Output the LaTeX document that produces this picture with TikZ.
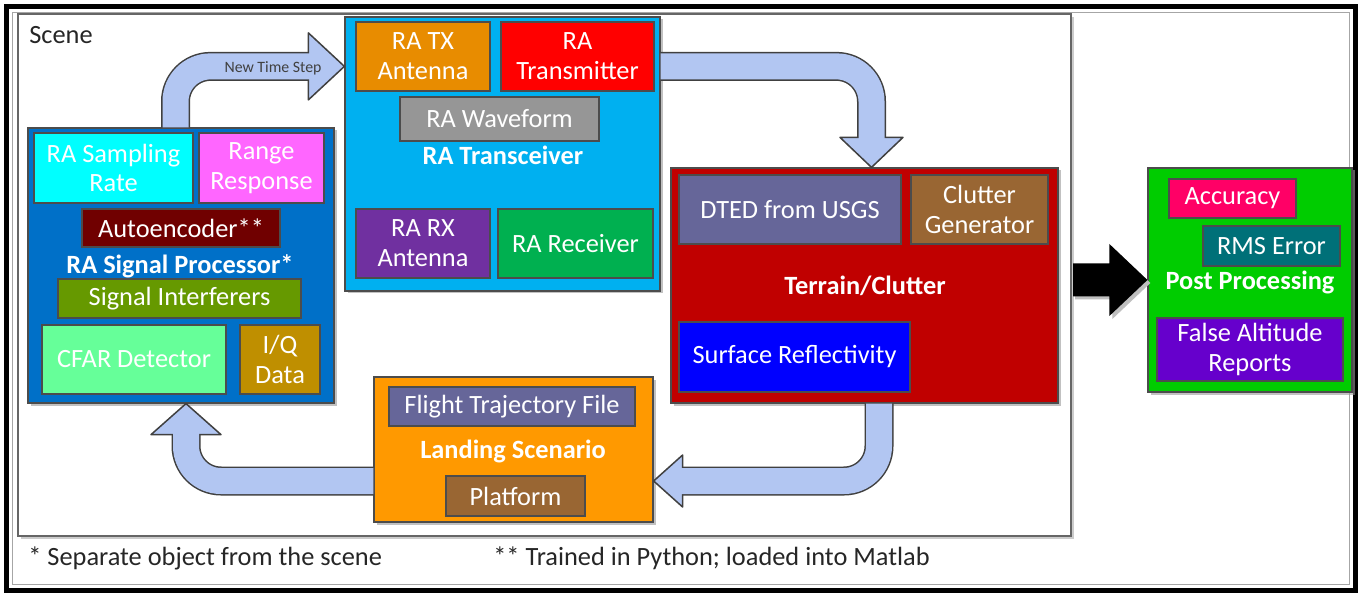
\documentclass[tikz,border=0pt]{standalone}
\usepackage{fontspec}
\setmainfont{Carlito}
\usetikzlibrary{shadows, calc}

\definecolor{spblue}{RGB}{0,112,200}
\definecolor{trxblue}{RGB}{0,176,240}
\definecolor{samplecyan}{RGB}{0,255,255}
\definecolor{rangepink}{RGB}{255,102,255}
\definecolor{autored}{RGB}{112,0,0}
\definecolor{interfgreen}{RGB}{102,153,0}
\definecolor{cfargreen}{RGB}{102,255,153}
\definecolor{iqgold}{RGB}{191,143,0}
\definecolor{txorange}{RGB}{232,140,0}
\definecolor{txred}{RGB}{255,0,0}
\definecolor{wavegray}{RGB}{150,150,150}
\definecolor{rxpurple}{RGB}{112,48,160}
\definecolor{rxgreen}{RGB}{0,176,80}
\definecolor{terrainred}{RGB}{192,0,0}
\definecolor{dtedslate}{RGB}{102,102,153}
\definecolor{clutterbrown}{RGB}{153,102,51}
\definecolor{reflblue}{RGB}{0,0,255}
\definecolor{postgreen}{RGB}{0,204,0}
\definecolor{accpink}{RGB}{255,0,102}
\definecolor{rmsteal}{RGB}{0,112,120}
\definecolor{falsepurple}{RGB}{102,0,204}
\definecolor{landorange}{RGB}{255,153,0}
\definecolor{flowblue}{RGB}{178,198,242}
\definecolor{edgegray}{RGB}{64,64,64}

\begin{document}
\begin{tikzpicture}[
        box/.style={draw=black!70, line width=0.7pt, text=white, align=center, inner sep=0pt, font=\fontsize{15}{17}\selectfont},
        group/.style={box, drop shadow={shadow xshift=0.05cm, shadow yshift=-0.05cm, fill=black!40, opacity=0.6}},
        title/.style={text=white, inner sep=0pt, font=\fontsize{15}{17}\selectfont\bfseries},
        plain/.style={text=black!85, inner sep=0pt, font=\fontsize{15}{17}\selectfont},
        flowshaft/.style={line width=0.58cm, draw=edgegray, rounded corners=0.7cm},
        flowcore/.style={line width=0.52cm, draw=flowblue, rounded corners=0.7cm},
        flowhead/.style={fill=flowblue, draw=edgegray, line width=0.03cm, line join=round}
    ]
        \useasboundingbox (0,0) rectangle (27.22,-11.9);

        % frame and scene
        \draw[line width=0.1cm] (0.13,-0.13) rectangle (27.11,-11.81);
        \draw[black!35, line width=0.03cm] (0.25,-0.25) rectangle (26.99,-11.69);
        \node[draw=black!60, line width=0.04cm, fill=white, minimum width=21.06cm, minimum height=10.44cm,
            drop shadow={shadow xshift=0.06cm, shadow yshift=-0.06cm, fill=black!40}] (scene) at (10.89,-5.5) {};
        \node[plain, anchor=west] (scenelbl) at (0.58,-0.70) {Scene};

        % groups
        \node[group, fill=spblue, minimum width=6.12cm, minimum height=5.5cm] (sp) at (3.62,-5.31) {};
        \node[group, fill=trxblue, minimum width=6.30cm, minimum height=5.48cm] (trx) at (10.05,-3.08) {};
        \node[group, fill=terrainred, minimum width=7.74cm, minimum height=4.70cm] (ter) at (17.29,-5.71) {};
        \node[group, fill=postgreen, minimum width=4.08cm, minimum height=4.48cm] (post) at (25.0,-5.6) {};
        \node[group, fill=landorange, minimum width=5.58cm, minimum height=2.90cm] (land) at (10.27,-8.99) {};

        % signal processor
        \node[box, fill=samplecyan, minimum width=3.18cm, minimum height=1.40cm] (samp) at (2.27,-3.36) {RA Sampling\\Rate};
        \node[box, fill=rangepink, minimum width=2.50cm, minimum height=1.40cm] (range) at (5.23,-3.36) {Range\\Response};
        \node[box, fill=autored, minimum width=3.96cm, minimum height=0.76cm] (auto) at (3.62,-4.56) {Autoencoder**};
        \node[title] (sptitle) at (3.6,-5.32) {RA Signal Processor*};
        \node[box, fill=interfgreen, minimum width=4.86cm, minimum height=0.78cm] (interf) at (3.59,-5.97) {Signal Interferers};
        \node[box, fill=cfargreen, minimum width=3.68cm, minimum height=1.38cm] (cfar) at (2.68,-7.19) {CFAR Detector};
        \node[box, fill=iqgold, minimum width=1.6cm, minimum height=1.38cm] (iq) at (5.6,-7.19) {I/Q\\Data};

        % transceiver
        \node[box, fill=txorange, minimum width=2.68cm, minimum height=1.38cm] (txant) at (8.46,-1.13) {RA TX\\Antenna};
        \node[box, fill=txred, minimum width=3.06cm, minimum height=1.38cm] (tx) at (11.55,-1.13) {RA\\Transmitter};
        \node[box, fill=wavegray, minimum width=3.98cm, minimum height=0.88cm] (wave) at (9.99,-2.38) {RA Waveform};
        \node[title] (trxtitle) at (10.06,-3.10) {RA Transceiver};
        \node[box, fill=rxpurple, minimum width=2.68cm, minimum height=1.38cm] (rxant) at (8.46,-4.87) {RA RX\\Antenna};
        \node[box, fill=rxgreen, minimum width=3.10cm, minimum height=1.38cm] (rx) at (11.51,-4.87) {RA Receiver};

        % terrain
        \node[box, fill=dtedslate, minimum width=4.44cm, minimum height=1.38cm] (dted) at (15.8,-4.19) {DTED from USGS};
        \node[box, fill=clutterbrown, minimum width=2.74cm, minimum height=1.38cm] (clut) at (19.59,-4.19) {Clutter\\Generator};
        \node[title] (tertitle) at (17.3,-5.72) {Terrain/Clutter};
        \node[box, fill=reflblue, minimum width=4.62cm, minimum height=1.40cm] (refl) at (15.89,-7.14) {Surface Reflectivity};

        % post processing
        \node[box, fill=accpink, minimum width=2.54cm, minimum height=0.78cm] (acc) at (24.65,-3.97) {Accuracy};
        \node[box, fill=rmsteal, minimum width=2.74cm, minimum height=0.80cm] (rms) at (25.43,-4.92) {RMS Error};
        \node[title] (posttitle) at (25.0,-5.64) {Post Processing};
        \node[box, fill=falsepurple, minimum width=3.72cm, minimum height=1.26cm] (false) at (25.0,-6.99) {False Altitude\\Reports};

        % landing
        \node[box, fill=dtedslate, minimum width=4.92cm, minimum height=0.78cm] (traj) at (10.24,-8.13) {Flight Trajectory File};
        \node[title] (landtitle) at (10.26,-9.02) {Landing Scenario};
        \node[box, fill=clutterbrown, minimum width=2.78cm, minimum height=0.80cm] (plat) at (10.31,-9.92) {Platform};

        % notes
        \node[plain, anchor=west] (note1) at (0.56,-11.16) {* Separate object from the scene};
        \node[plain, anchor=west] (note2) at (9.86,-11.16) {** Trained in Python; loaded into Matlab};

        % new time step
        \coordinate (a1s) at ([xshift=-0.11cm]sp.north);
        \coordinate (a1t) at ([yshift=-1cm]trx.north west);
        \draw[flowshaft] (a1s) |- ([xshift=-0.70cm]a1t);
        \filldraw[flowhead] (a1t) -- ++(-0.72,0.67) -- ++(0,-1.34) -- cycle;
        \draw[flowcore] (a1s) |- ([xshift=-0.64cm]a1t);
        \node[text=black!75, font=\fontsize{9}{11}\selectfont] (steplbl) at (5.46,-1.36) {New Time Step};

        % transceiver to terrain
        \coordinate (a2s) at ([yshift=-1cm]trx.north east);
        \coordinate (a2t) at ([xshift=0.14cm]ter.north);
        \draw[flowshaft] (a2s) -| ([yshift=0.58cm]a2t);
        \filldraw[flowhead] (a2t) -- ++(-0.63,0.60) -- ++(1.26,0) -- cycle;
        \draw[flowcore] (a2s) -| ([yshift=0.52cm]a2t);

        % terrain to landing
        \coordinate (a3s) at ([xshift=0.29cm]ter.south);
        \coordinate (a3t) at ([yshift=-0.63cm]land.east);
        \draw[flowshaft] (a3s) |- ([xshift=0.56cm]a3t);
        \filldraw[flowhead] (a3t) -- ++(0.58,0.52) -- ++(0,-1.04) -- cycle;
        \draw[flowcore] (a3s) |- ([xshift=0.52cm]a3t);

        % landing to signal processor
        \coordinate (a4s) at ([yshift=-0.63cm]land.west);
        \coordinate (a4t) at ([xshift=0.1cm]sp.south);
        \draw[flowshaft] (a4s) -| ([yshift=-0.60cm]a4t);
        \filldraw[flowhead] (a4t) -- ++(-0.70,-0.62) -- ++(1.40,0) -- cycle;
        \draw[flowcore] (a4s) -| ([yshift=-0.54cm]a4t);

        % scene to post processing
        \coordinate (bs) at (scene.east |- post.west);
        \coordinate (bt) at (post.west);
        \fill[black!25] ($(bs)+(0.06,0.27)$) -- ($(bt)+(-0.70,0.27)$) -- ($(bt)+(-0.70,0.66)$) -- ($(bt)+(0.06,-0.06)$)
            -- ($(bt)+(-0.70,-0.78)$) -- ($(bt)+(-0.70,-0.39)$) -- ($(bs)+(0.06,-0.39)$) -- cycle;
        \fill[black] ($(bs)+(0.02,0.33)$) -- ($(bt)+(-0.76,0.33)$) -- ($(bt)+(-0.76,0.72)$) -- (bt)
            -- ($(bt)+(-0.76,-0.72)$) -- ($(bt)+(-0.76,-0.33)$) -- ($(bs)+(0.02,-0.33)$) -- cycle;
    \end{tikzpicture}
\end{document}
